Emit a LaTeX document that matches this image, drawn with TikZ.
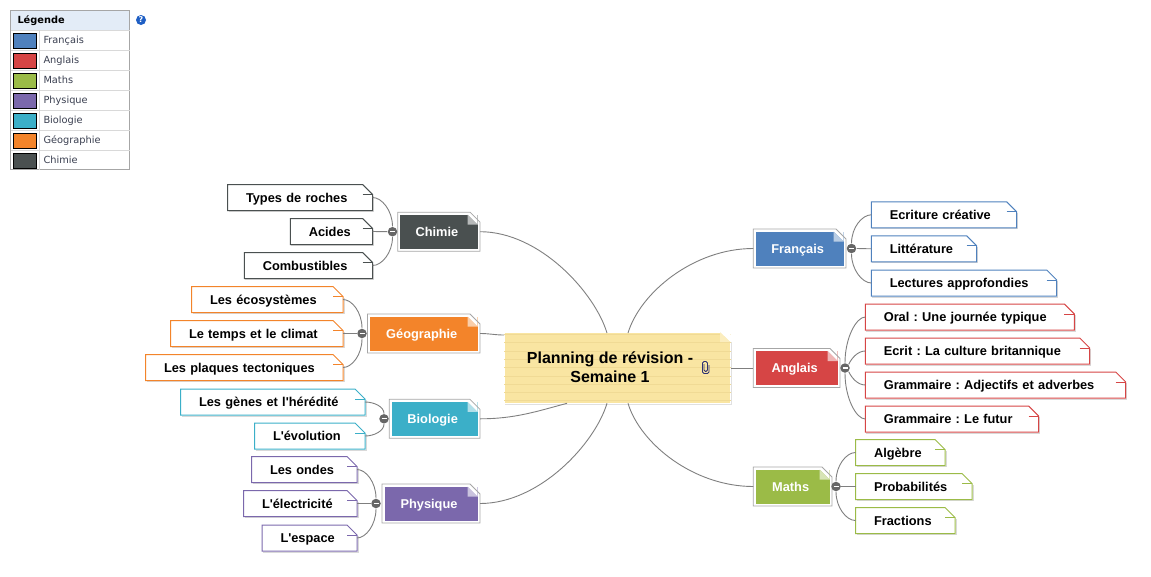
\documentclass[tikz,border=0pt]{standalone}
\usepackage{fontspec}
\usetikzlibrary{calc}
\newfontfamily\mapfont{Liberation Sans}
\newfontfamily\uifont{DejaVu Sans}
\frenchspacing
\definecolor{francais}{HTML}{4F81BD}
\definecolor{anglais}{HTML}{D64545}
\definecolor{maths}{HTML}{9BBB47}
\definecolor{physique}{HTML}{7B68AC}
\definecolor{biologie}{HTML}{3BAFC8}
\definecolor{geographie}{HTML}{F3842A}
\definecolor{chimie}{HTML}{4A5050}
\definecolor{noteyellow}{HTML}{F9E5A2}
\definecolor{noteline}{HTML}{F0DA95}
\definecolor{linkgrey}{HTML}{7F7F7F}
\definecolor{legendhead}{HTML}{E3ECF7}
\definecolor{legendink}{HTML}{3A3F50}
\definecolor{helpblue}{HTML}{1F5FC4}
\tikzset{
  leafbox/.style={minimum height=25pt, inner xsep=18pt, inner ysep=0pt, align=left, text height=10pt, text depth=1pt, font=\mapfont\bfseries\fontsize{12.8}{15}\selectfont, text=black, anchor=west},
  topicbox/.style={minimum height=34pt, inner sep=0pt, outer sep=2.5pt, text height=10pt, text depth=1pt, font=\mapfont\bfseries\fontsize{12.8}{15}\selectfont, text=white},
  togglebtn/.style={circle, fill=black!60, minimum size=9.5pt, inner sep=0pt},
  link/.style={draw=linkgrey, line width=0.9pt},
  legendtext/.style={font=\uifont\fontsize{9.8}{12}\selectfont, text=legendink, anchor=west, inner sep=0pt, text height=8pt, text depth=2pt}
}
\begin{document}
\begin{tikzpicture}[x=1pt, y=-1pt, line width=1pt]
  \useasboundingbox (0,0) rectangle (1151,576);
  % legend
  \fill[legendhead] (10.5,10.5) rectangle (129.5,30.5);
  \draw[black!35, line width=0.75pt] (10.5,10.5) rectangle (129.5,169.5);
  \draw[black!15, line width=0.75pt] (39.5,30.5) -- (39.5,169.5);
  \node[legendtext, font=\uifont\bfseries\fontsize{9.8}{12}\selectfont, text=black] (legendtitle) at (17,20) {Légende};
  \foreach \nm/\col/\yc/\txt in {lfr/francais/40.5/Français, lan/anglais/60.5/Anglais, lma/maths/80.5/Maths, lph/physique/100.5/Physique, lbi/biologie/120.5/Biologie, lge/geographie/140.5/Géographie, lch/chimie/160.5/Chimie} {
    \draw[black!15, line width=0.75pt] (10.5,\yc-10) -- (129.5,\yc-10);
    \node[draw=black, fill=\col, minimum width=23pt, minimum height=15pt, inner sep=0pt] (\nm) at (25,\yc) {};
    \node[legendtext] (\nm text) at (43,\yc) {\txt};
  }
  \node[circle, fill=helpblue, text=white, minimum size=10pt, inner sep=0pt, font=\uifont\bfseries\fontsize{8}{8}\selectfont] (help) at (141,20) {?};

  % leaves
  \foreach \nm/\col/\xa/\xb/\yc/\txt in {
    roches/chimie/227.5/372.7/197.5/Types de roches, acides/chimie/290.3/372.7/231.5/Acides, combust/chimie/244.3/372.7/265.5/Combustibles,
    ecosys/geographie/191.5/343/299.5/Les écosystèmes, climat/geographie/170.5/343/333.5/Le temps et le climat, plaques/geographie/145.5/343/367.5/Les plaques tectoniques,
    genes/biologie/180.5/365/402/Les gènes et l'hérédité, evol/biologie/254.5/365/436/L'évolution,
    ondes/physique/251.5/357/469.5/Les ondes, elec/physique/243.5/357/503.5/L'électricité, espace/physique/262/357/538/L'espace,
    ecrit/francais/871.3/1016.7/214.8/Ecriture créative, litt/francais/871.3/976.7/248.8/Littérature, lect/francais/871.3/1056.7/283/Lectures approfondies,
    oral/anglais/865.3/1074.3/317/Oral : Une journée typique, culture/anglais/865.3/1089.7/351/Ecrit : La culture britannique, adj/anglais/865.3/1125.7/385/Grammaire : Adjectifs et adverbes, futur/anglais/865.3/1038.7/419/Grammaire : Le futur,
    algebre/maths/855.5/945/452.5/Algèbre, proba/maths/855.5/972/486.5/Probabilités, fract/maths/855.5/955/520.5/Fractions} {
    \node[leafbox, text width={(\xb-\xa-37)*1pt}] (\nm) at (\xa,\yc) {\txt};
    \draw[black!15] ($(\nm.south west)+(1,1)$) -- ($(\nm.south east)+(1,1)$) -- ($(\nm.north east)+(1,11)$);
    \draw[\col] (\nm.south west) -- (\nm.north west) -- ($(\nm.north east)+(-10,0)$) -- ($(\nm.north east)+(0,10)$) -- (\nm.south east) -- cycle;
    \draw[\col] ($(\nm.north east)+(-10,10)$) -- ($(\nm.north east)+(0,10)$);
  }

  % main topics
  \foreach \nm/\col/\xa/\xb/\yc/\txt in {
    tchimie/chimie/397.7/480/231.7/Chimie, tgeo/geographie/367.5/480/333.5/Géographie, tbio/biologie/389.3/480/418.8/Biologie, tphys/physique/382/480/503.5/Physique,
    tfr/francais/753.3/846/248.5/Français, tan/anglais/753.3/840/368/Anglais, tma/maths/753.3/832/486.5/Maths} {
    \node[topicbox, fill=\col, minimum width={(\xb-\xa-5)*1pt}] (\nm) at ({(\xa+\xb)/2},\yc) {\txt\hspace*{4pt}};
    \fill[white] ($(\nm.north east)+(-12.5,2.5)$) -- ($(\nm.north east)+(-2.5,2.5)$) -- ($(\nm.north east)+(-2.5,12.5)$) -- cycle;
    \fill[\col!40] ($(\nm.north east)+(-12.5,2.5)$) -- ($(\nm.north east)+(-2.5,12.5)$) -- ($(\nm.north east)+(-12.5,12.5)$) -- cycle;
    \draw[black!35, line width=0.75pt] (\nm.south west) -- (\nm.north west) -- ($(\nm.north east)+(-10,0)$) -- ($(\nm.north east)+(0,10)$) -- (\nm.south east) -- cycle;
  }

  % central note
  \node[fill=noteyellow, minimum width=225.3pt, minimum height=70.6pt, inner sep=0pt] (central) at (617.35,368) {};
  \foreach \yy in {2.3,10.6,...,69} {
    \draw[noteline] ($(central.north west)+(0,\yy)$) -- ($(central.north east)+(0,\yy)$);
  }
  \fill[white] ($(central.north east)+(-10.5,0)$) -- (central.north east) -- ($(central.north east)+(0,10)$) -- cycle;
  \fill[noteyellow!70!white] ($(central.north east)+(-10.5,0)$) -- ($(central.north east)+(0,10)$) -- ($(central.north east)+(-10.5,10)$) -- cycle;
  \draw[black!12] ($(central.south west)+(1,1)$) -- ($(central.south east)+(1,1)$) -- ($(central.north east)+(1,10)$);
  \node[align=center, inner sep=0pt, font=\mapfont\bfseries\fontsize{16}{18.5}\selectfont] (title) at (610,367) {Planning de révision -\\Semaine 1};
  \draw[legendink!80!blue, line width=0.9pt, rounded corners=1.5pt] (704,364) -- (704,371.5) -- (707.5,371.5) -- (707.5,361.5) -- (702.5,361.5) -- (702.5,373.5) -- (709,373.5) -- (709,365);

  % curves to the centre
  \coordinate (cn1) at (607,333); \coordinate (cn2) at (628,333);
  \coordinate (cs1) at (607,403.3); \coordinate (cs2) at (628,403.3); \coordinate (cs3) at (567,403.3);
  \draw[link] (tchimie.east) .. controls +(60,0) and +(-12,-40) .. (cn1);
  \draw[link] (tgeo.east) .. controls +(10,0) and +(-10,0) .. (central.west |- 0,335);
  \draw[link] (tbio.east) .. controls +(35,0) and +(-30,8) .. (cs3);
  \draw[link] (tphys.east) .. controls +(60,0) and +(-12,40) .. (cs1);
  \draw[link] (tfr.west) .. controls +(-60,0) and +(12,-40) .. (cn2);
  \draw[link] (tan.west) -- (central.east |- tan.west);
  \draw[link] (tma.west) .. controls +(-60,0) and +(12,40) .. (cs2);

  % toggles and branches
  \foreach \nm/\xc/\yc in {gchimie/392.5/231.7, ggeo/362/333.5, gbio/384/418.8, gphys/376/503.5, gfr/851.5/248.5, gan/845/368, gma/836/486.5} {
    \node[togglebtn] (\nm) at (\xc,\yc) {};
    \draw[white, line width=1.2pt] ($(\nm.center)+(-2.5,0)$) -- ($(\nm.center)+(2.5,0)$);
  }
  \foreach \gg/\lf in {gchimie/acides, ggeo/climat, gphys/elec} \draw[link] (\gg.west) -- (\lf.east);
  \foreach \gg/\lf in {gfr/litt, gma/proba} \draw[link] (\gg.east) -- (\lf.west);
  \foreach \gg/\lf/\dd in {gchimie/roches/16, ggeo/ecosys/16, gbio/genes/7, gphys/ondes/16} \draw[link] (\gg.north) to[out=90, in=0, out distance=\dd pt, in distance=9pt] (\lf.east);
  \foreach \gg/\lf/\dd in {gchimie/combust/16, ggeo/plaques/16, gbio/evol/7, gphys/espace/16} \draw[link] (\gg.south) to[out=-90, in=0, out distance=\dd pt, in distance=9pt] (\lf.east);
  \foreach \gg/\lf/\dd in {gfr/ecrit/16, gan/oral/25, gma/algebre/16} \draw[link] (\gg.north) to[out=90, in=180, out distance=\dd pt, in distance=9pt] (\lf.west);
  \foreach \gg/\lf/\dd in {gfr/lect/16, gan/futur/25, gma/fract/16} \draw[link] (\gg.south) to[out=-90, in=180, out distance=\dd pt, in distance=9pt] (\lf.west);
  \draw[link] (gan.north east) to[out=65, in=180, out distance=6pt, in distance=8pt] (culture.west);
  \draw[link] (gan.south east) to[out=-65, in=180, out distance=6pt, in distance=8pt] (adj.west);
\end{tikzpicture}
\end{document}
